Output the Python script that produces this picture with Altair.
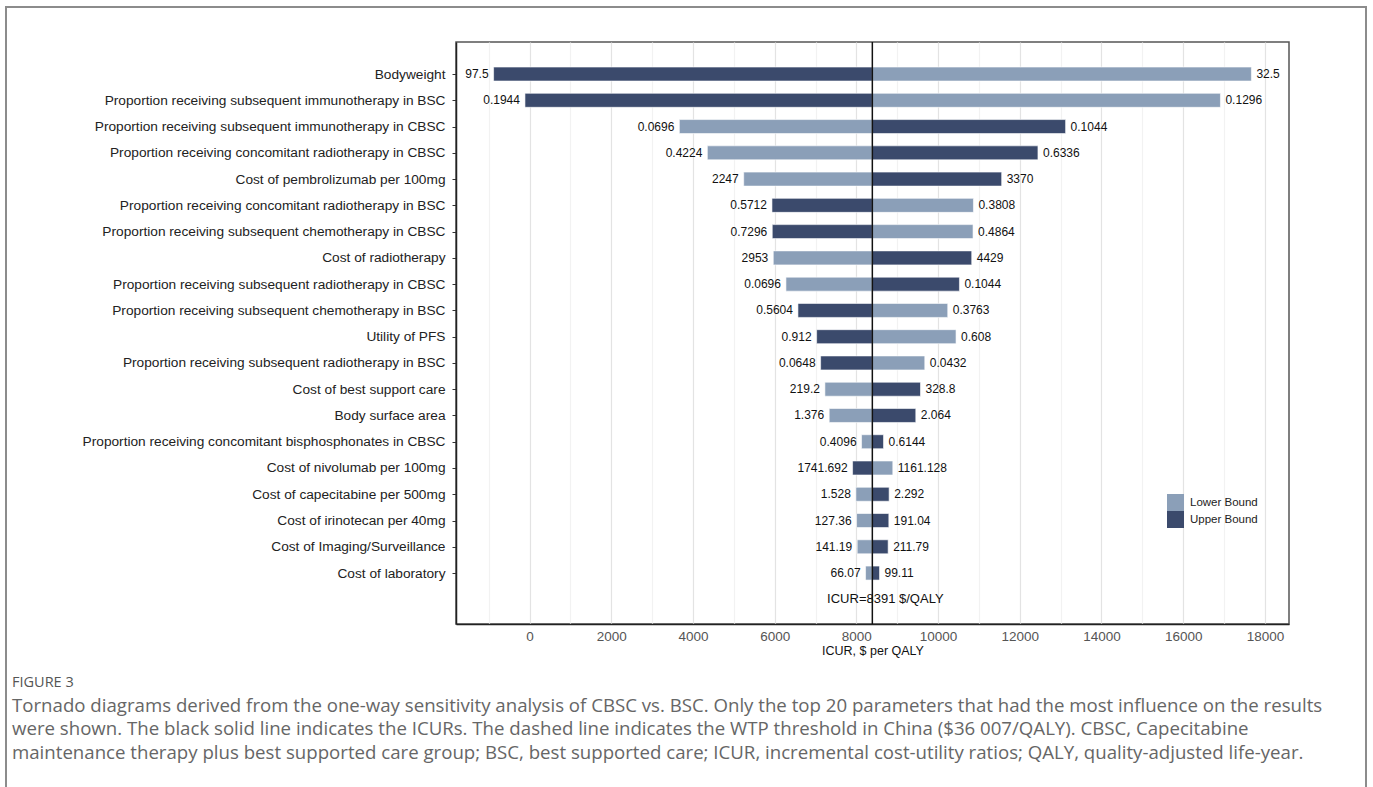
import json
import altair as alt
import pandas as pd

BASE = 8391

names = [
    "Bodyweight",
    "Proportion receiving subsequent immunotherapy in BSC",
    "Proportion receiving subsequent immunotherapy in CBSC",
    "Proportion receiving concomitant radiotherapy in CBSC",
    "Cost of pembrolizumab per 100mg",
    "Proportion receiving concomitant radiotherapy in BSC",
    "Proportion receiving subsequent chemotherapy in CBSC",
    "Cost of radiotherapy",
    "Proportion receiving subsequent radiotherapy in CBSC",
    "Proportion receiving subsequent chemotherapy in BSC",
    "Utility of PFS",
    "Proportion receiving subsequent radiotherapy in BSC",
    "Cost of best support care",
    "Body surface area",
    "Proportion receiving concomitant bisphosphonates in CBSC",
    "Cost of nivolumab per 100mg",
    "Cost of capecitabine per 500mg",
    "Cost of irinotecan per 40mg",
    "Cost of Imaging/Surveillance",
    "Cost of laboratory",
]

lower_labels = ["32.5", "0.1296", "0.0696", "0.4224", "2247", "0.3808", "0.4864", "2953",
                "0.0696", "0.3763", "0.608", "0.0432", "219.2", "1.376", "0.4096",
                "1161.128", "1.528", "127.36", "141.19", "66.07"]
upper_labels = ["97.5", "0.1944", "0.1044", "0.6336", "3370", "0.5712", "0.7296", "4429",
                "0.1044", "0.5604", "0.912", "0.0648", "328.8", "2.064", "0.6144",
                "1741.692", "2.292", "191.04", "211.79", "99.11"]

icur_lower = [17670, 16912, 3667, 4352, 5242, 10866, 10856, 5966, 6276, 10237,
              10440, 9675, 7230, 7335, 8127, 8892, 7988, 8005, 8020, 8225]
icur_upper = [-880, -112, 13122, 12445, 11557, 5934, 5941, 10824, 10523, 6570,
              7027, 7125, 9570, 9455, 8665, 7907, 8802, 8795, 8778, 8567]

bounds = ["Lower Bound", "Upper Bound"]
LIGHT = "#8b9fb8"
DARK = "#3b4a6c"

caption = [
    "Tornado diagrams derived from the one-way sensitivity analysis of CBSC vs. BSC. Only the top 20 parameters that had the most influence on the results",
    "were shown. The black solid line indicates the ICURs. The dashed line indicates the WTP threshold in China ($36 007/QALY). CBSC, Capecitabine",
    "maintenance therapy plus best supported care group; BSC, best supported care; ICUR, incremental cost-utility ratios; QALY, quality-adjusted life-year.",
]

rows = []
for i, n in enumerate(names):
    rows.append(dict(param=n, row=i + 1, bound=bounds[0], icur=icur_lower[i],
                     label=lower_labels[i], base=BASE))
    rows.append(dict(param=n, row=i + 1, bound=bounds[1], icur=icur_upper[i],
                     label=upper_labels[i], base=BASE))
df = pd.DataFrame(rows)

xscale = alt.Scale(domain=[-1800, 18590], nice=False, zero=False)
yscale = alt.Scale(domain=[-0.22, 21.94], nice=False, zero=False, reverse=True, padding=0)

yaxis = alt.Axis(
    values=list(range(1, len(names) + 1)),
    labelExpr=json.dumps(names) + "[datum.value - 1]",
    labelOverlap=False,
    title=None, grid=False, tickSize=4, tickColor="#333", tickWidth=1,
    domainColor="#222", domainWidth=1.5, labelFontSize=13.7, labelColor="#222",
    labelPadding=7, labelLimit=600,
)
xaxis = alt.Axis(
    values=list(range(-1000, 19000, 1000)),
    labelExpr="datum.value % 2000 === 0 ? format(datum.value, 'd') : ''",
    labelOverlap=False, labelFlush=False,
    title="ICUR, $ per QALY", grid=True,
    gridColor={"condition": {"test": "datum.value % 2000 !== 0", "value": "#f2f2f2"},
               "value": "#e3e3e3"},
    gridWidth=1.2,
    ticks=False, domainColor="#222", domainWidth=1.5, labelFontSize=13.5,
    labelColor="#555", labelPadding=5, titleFontSize=12.5, titleFontWeight="normal",
    titleColor="#111", titlePadding=2,
)

bars = alt.Chart(df).mark_bar(size=14, stroke="white", strokeWidth=0.6).encode(
    x=alt.X("icur:Q", scale=xscale, axis=xaxis),
    x2="base:Q",
    y=alt.Y("row:Q", scale=yscale, axis=yaxis),
    color=alt.Color(
        "bound:N",
        scale=alt.Scale(domain=bounds, range=[LIGHT, DARK]),
        legend=alt.Legend(
            title=None, orient="none", legendX=711, legendY=452,
            symbolType="square", symbolSize=289, symbolStrokeWidth=0,
            labelFontSize=11.5, labelColor="#222", rowPadding=0, padding=0,
            labelOffset=6,
        ),
    ),
)

left_text = alt.Chart(df).transform_filter(f"datum.icur < {BASE}").mark_text(
    align="right", dx=-5, fontSize=12, color="#111"
).encode(x=alt.X("icur:Q", axis=xaxis), y=alt.Y("row:Q", axis=yaxis), text="label:N")

right_text = alt.Chart(df).transform_filter(f"datum.icur >= {BASE}").mark_text(
    align="left", dx=5, fontSize=12, color="#111"
).encode(x=alt.X("icur:Q", axis=xaxis), y=alt.Y("row:Q", axis=yaxis), text="label:N")

base_df = pd.DataFrame({"base": [BASE], "row": [len(names) + 1],
                        "txt": [f"ICUR={BASE} $/QALY"]})
base_rule = alt.Chart(base_df).mark_rule(color="#111", strokeWidth=1.5).encode(
    x=alt.X("base:Q", axis=xaxis)
)
base_text = alt.Chart(base_df).mark_text(dx=13, fontSize=13, color="#111").encode(
    x=alt.X("base:Q", axis=xaxis), y=alt.Y("row:Q", axis=yaxis), text="txt:N"
)

frame = alt.Chart(pd.DataFrame({"a": [0]})).mark_rect(
    fillOpacity=0, stroke="#8c8c8c", strokeWidth=2
).encode(x=alt.value(-450), x2=alt.value(910), y=alt.value(-35), y2=alt.value(748))

chart = alt.layer(frame, bars, base_rule, left_text, right_text, base_text).properties(
    width=833,
    height=582,
    autosize="none",
    padding={"left": 456, "top": 42, "right": 84, "bottom": 163},
    title=alt.TitleParams(
        text="FIGURE 3",
        subtitle=caption,
        orient="bottom",
        anchor="start",
        frame="group",
        dx=-444,
        dy=-115,
        offset=0,
        font="Open Sans",
        fontSize=14.5,
        fontWeight="normal",
        color="#555",
        subtitleFont="Open Sans",
        subtitleFontSize=18.65,
        subtitleColor="#666",
        subtitleLineHeight=23.5,
        subtitlePadding=6,
    ),
).configure(font="Liberation Sans").configure_axis(labelOverlap=False).configure_view(
    stroke="#555", strokeWidth=1.5
)

chart.save("out.html", embed_options={"renderer": "svg", "actions": False})
